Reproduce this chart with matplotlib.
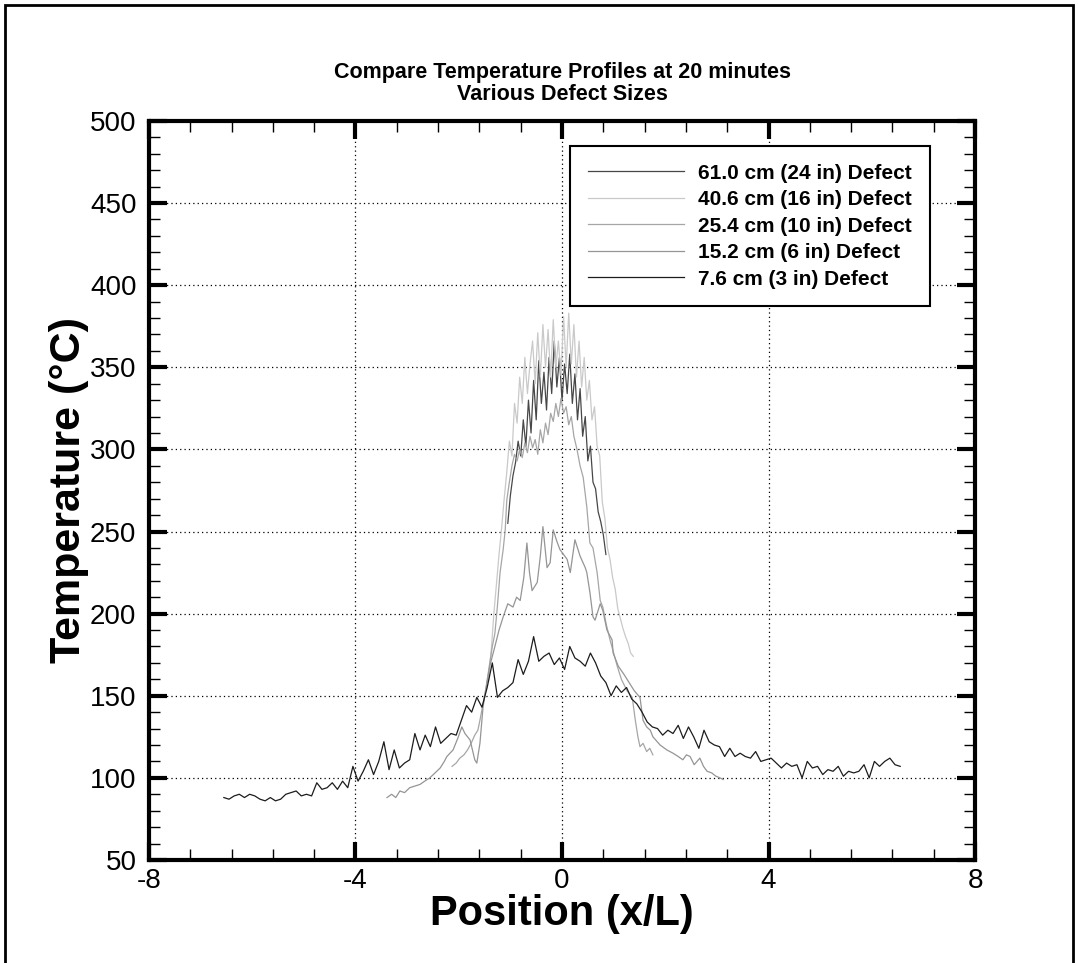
import numpy as np
import matplotlib
matplotlib.use("Agg")
import matplotlib.pyplot as plt
from matplotlib.ticker import MultipleLocator
from matplotlib.patches import Rectangle

plt.rcParams['font.family'] = ['Liberation Sans', 'DejaVu Sans']
plt.rcParams['axes.unicode_minus'] = False

# 7.6 cm (3 in) defect, sampled every 0.1 x/L from -6.55 to 6.55
x76_start, x76_stop = -6.55, 6.55
temp_76 = [
    88, 87, 89, 90, 88, 90, 89, 87, 86, 88,
    86, 87, 90, 91, 92, 89, 90, 89, 97, 93,
    94, 97, 93, 98, 94, 107, 98, 104, 111, 102,
    110, 122, 105, 117, 106, 109, 111, 127, 117, 126,
    119, 131, 121, 124, 127, 126, 135, 144, 140, 149,
    143, 155, 170, 149, 153, 155, 158, 172, 163, 171,
    186, 171, 174, 176, 169, 173, 166, 180, 173, 171,
    168, 176, 170, 162, 158, 150, 156, 152, 155, 148,
    145, 140, 134, 131, 130, 126, 129, 127, 132, 124,
    131, 125, 118, 129, 122, 120, 119, 113, 118, 113,
    115, 113, 112, 116, 110, 111, 112, 109, 106, 109,
    107, 108, 100, 110, 106, 107, 102, 105, 104, 107,
    101, 104, 103, 104, 108, 100, 110, 107, 110, 112,
    108, 107,
]

# 15.2 cm (6 in) defect
pos_152 = [
    -3.39, -3.30, -3.22, -3.14, -3.05, -2.95, -2.85, -2.75, -2.66, -2.56,
    -2.46, -2.36, -2.28, -2.23, -2.11, -2.02, -1.94, -1.88, -1.78, -1.69,
    -1.65, -1.59, -1.53, -1.46, -1.40, -1.30, -1.22, -1.14, -1.05, -0.95,
    -0.88, -0.81, -0.74, -0.68, -0.63, -0.58, -0.48, -0.42, -0.37, -0.29,
    -0.23, -0.17, -0.10, -0.04, 0.03, 0.10, 0.16, 0.25, 0.35, 0.45,
    0.48, 0.54, 0.60, 0.64, 0.74, 0.79, 0.87, 0.97, 0.99, 1.09,
    1.20, 1.30, 1.40, 1.51, 1.57, 1.64, 1.71, 1.76, 1.90, 2.03,
    2.15, 2.25, 2.34, 2.41, 2.48, 2.56, 2.67, 2.74, 2.81, 2.90,
    2.98, 3.06, 3.12,
]
temp_152 = [
    88, 90, 88, 92, 91, 94, 95, 96, 98, 100,
    103, 106, 110, 113, 117, 124, 131, 127, 123, 111,
    109, 121, 143, 157, 168, 180, 190, 198, 206, 204,
    210, 208, 222, 243, 225, 214, 219, 235, 253, 228,
    231, 251, 244, 239, 236, 233, 225, 245, 235, 228,
    225, 213, 198, 196, 206, 202, 190, 184, 176, 168,
    163, 158, 153, 149, 135, 131, 129, 125, 120, 117,
    115, 113, 111, 114, 113, 108, 112, 107, 104, 103,
    101, 100, 99,
]

# 25.4 cm (10 in) defect
pos_254 = [
    -2.13, -2.05, -1.98, -1.90, -1.83, -1.76, -1.69, -1.63, -1.59, -1.53,
    -1.47, -1.40, -1.35, -1.30, -1.25, -1.20, -1.14, -1.10, -1.07, -1.02,
    -0.97, -0.92, -0.87, -0.82, -0.77, -0.72, -0.67, -0.62, -0.57, -0.52,
    -0.47, -0.42, -0.37, -0.32, -0.27, -0.22, -0.17, -0.12, -0.07, -0.02,
    0.03, 0.08, 0.13, 0.18, 0.23, 0.29, 0.35, 0.41, 0.48, 0.54,
    0.60, 0.68, 0.74, 0.79, 0.86, 0.93, 1.00, 1.07, 1.15, 1.26,
    1.36, 1.42, 1.47, 1.51, 1.57, 1.64, 1.70, 1.76,
]
temp_254 = [
    107, 109, 112, 114, 117, 121, 126, 129, 135, 145,
    155, 170, 180, 188, 205, 225, 239, 251, 269, 280,
    290, 297, 293, 300, 295, 304, 298, 308, 301, 306,
    297, 312, 304, 316, 309, 322, 317, 328, 320, 331,
    322, 326, 315, 320, 308, 300, 290, 283, 265, 243,
    240, 225, 208, 204, 193, 184, 176, 168, 160, 153,
    149, 135, 125, 119, 121, 116, 118, 114,
]

# 40.6 cm (16 in) defect, every 0.05 x/L from -1.42 to 1.38
x406_start, x406_stop = -1.42, 1.38
temp_406 = [
    160, 178, 200, 218, 236, 252, 270, 286, 305, 296,
    328, 316, 344, 328, 356, 334, 352, 366, 340, 371,
    344, 376, 350, 373, 344, 379, 350, 366, 345, 381,
    350, 383, 352, 376, 344, 366, 338, 356, 330, 342,
    318, 326, 302, 296, 268, 258, 240, 233, 222, 215,
    203, 197, 191, 186, 182, 176, 174,
]

# 61.0 cm (24 in) defect, every 0.05 x/L from -1.05 to 0.85
x610_start, x610_stop = -1.05, 0.85
temp_610 = [
    255, 272, 284, 292, 305, 296, 318, 302, 330, 310,
    342, 318, 354, 328, 347, 324, 356, 334, 366, 338,
    356, 330, 352, 334, 358, 328, 346, 318, 337, 308,
    320, 293, 302, 280, 276, 262, 256, 248, 236,
]

labels = [
    '61.0 cm (24 in) Defect',
    '40.6 cm (16 in) Defect',
    '25.4 cm (10 in) Defect',
    '15.2 cm (6 in) Defect',
    '7.6 cm (3 in) Defect',
]
colors = ['#474747', '#c9c9c9', '#a6a6a6', '#959595', '#1c1c1c']


def build_series():
    """Return (x, y) pairs in legend order"""
    x76 = np.linspace(x76_start, x76_stop, len(temp_76))
    x406 = np.linspace(x406_start, x406_stop, len(temp_406))
    x610 = np.linspace(x610_start, x610_stop, len(temp_610))
    return [
        (x610, temp_610),
        (x406, temp_406),
        (pos_254, temp_254),
        (pos_152, temp_152),
        (x76, temp_76),
    ]


fig = plt.figure(figsize=(10.78, 9.63), dpi=100)
ax = fig.add_axes([0.1382, 0.1070, 0.7663, 0.7674])

for (xs, ys), lab, col in zip(build_series(), labels, colors):
    ax.plot(xs, ys, color=col, linewidth=0.9, label=lab)

ax.set_xlim(-8, 8)
ax.set_ylim(50, 500)
ax.xaxis.set_major_locator(MultipleLocator(4))
ax.xaxis.set_minor_locator(MultipleLocator(0.8))
ax.yaxis.set_major_locator(MultipleLocator(50))
ax.yaxis.set_minor_locator(MultipleLocator(10))

ax.tick_params(which='both', direction='in', top=True, right=True, colors='black')
ax.tick_params(which='major', length=13, width=3, labelsize=20)
ax.tick_params(axis='y', which='major', pad=9)
ax.tick_params(axis='x', which='major', pad=6)
ax.tick_params(which='minor', length=8, width=1)
for sp in ax.spines.values():
    sp.set_linewidth(3)

ax.grid(True, which='major', color='black', linestyle=(0, (1, 2.5)), linewidth=0.9)

ax.set_xlabel('Position (x/L)', fontsize=30, fontweight='bold', labelpad=0)
ax.set_ylabel('Temperature (°C)', fontsize=31, fontweight='bold', labelpad=1)
ax.set_title('Compare Temperature Profiles at 20 minutes\nVarious Defect Sizes',
             fontsize=15.5, fontweight='bold', pad=15, linespacing=1.1)

leg = ax.legend(loc='upper left', bbox_to_anchor=(0.5097, 0.9662), borderaxespad=0,
                prop={'size': 15, 'weight': 'bold'}, handlelength=4.6,
                handletextpad=0.7, borderpad=0.85, labelspacing=0.36,
                fancybox=False, framealpha=1)
leg.get_frame().set_edgecolor('black')
leg.get_frame().set_linewidth(1.5)

# outer frame around the page
fig.patches.append(Rectangle((5 / 1078, -0.02), 1068 / 1078, 1 - 5 / 963 + 0.02,
                             transform=fig.transFigure, fill=False,
                             edgecolor='black', linewidth=2))

fig.savefig('out.png', dpi=100)
